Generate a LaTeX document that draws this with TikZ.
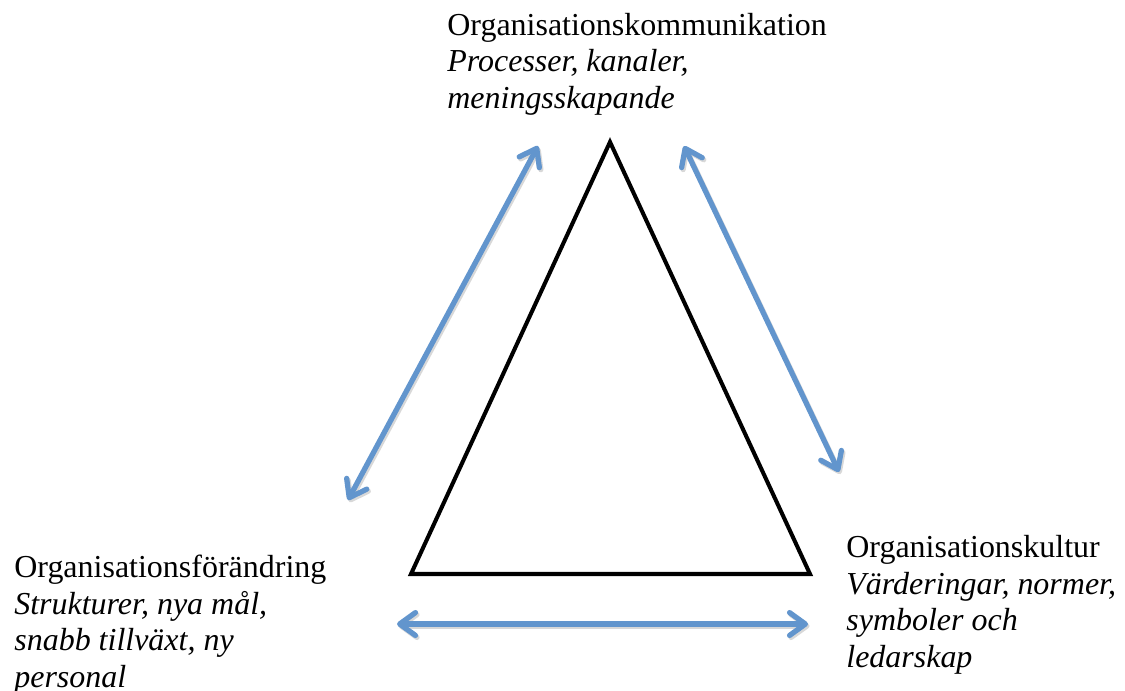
\documentclass[tikz,border=0pt]{standalone}
\usepackage{fontspec}
\setmainfont{Liberation Serif}
\usetikzlibrary{arrows.meta}
\definecolor{arrowblue}{RGB}{98,149,205}
\tikzset{
  label text/.style={anchor=base west, inner sep=0pt, align=left, font=\fontsize{18.2}{20.7}\selectfont},
  tri/.style={draw=black, line width=2.3pt, line join=miter},
  barbs/.style={{Straight Barb[length=9pt,width=13pt,round]}-{Straight Barb[length=9pt,width=13pt,round]}},
  dblarrow/.style={draw=arrowblue, line width=3pt, barbs},
  shadowarrow/.style={draw=black!30, opacity=0.5, line width=3pt, barbs}
}
\begin{document}
\begin{tikzpicture}[x=0.02cm,y=-0.02cm]
\useasboundingbox (0,0) rectangle (1125,690);
% triangle
\coordinate (apex) at (610,142);
\coordinate (bl) at (411,574);
\coordinate (br) at (810,574);
\draw[tri] (apex) -- (bl) -- (br) -- cycle;
% arrow endpoints
\coordinate (la) at (538,146);
\coordinate (lb) at (348,500);
\coordinate (ra) at (684,146);
\coordinate (rb) at (839,472);
\coordinate (ba) at (397,624);
\coordinate (bb) at (808,624);
\foreach \p/\q in {la/lb,ra/rb,ba/bb}{
  \draw[shadowarrow] ([shift={(1.5,2)}]\p) -- ([shift={(1.5,2)}]\q);
  \draw[dblarrow] (\p) -- (\q);
}
% labels (anchored at the baseline of the last line)
\node[label text] (komm) at (447,108) {Organisationskommunikation\\\textit{Processer, kanaler,}\\\textit{meningsskapande}};
\node[label text] (forand) at (14,687) {Organisationsförändring\\\textit{Strukturer, nya mål,}\\\textit{snabb tillväxt, ny}\\\textit{personal}};
\node[label text] (kultur) at (846,667) {Organisationskultur\\\textit{Värderingar, normer,}\\\textit{symboler och}\\\textit{ledarskap}};
\end{tikzpicture}
\end{document}
